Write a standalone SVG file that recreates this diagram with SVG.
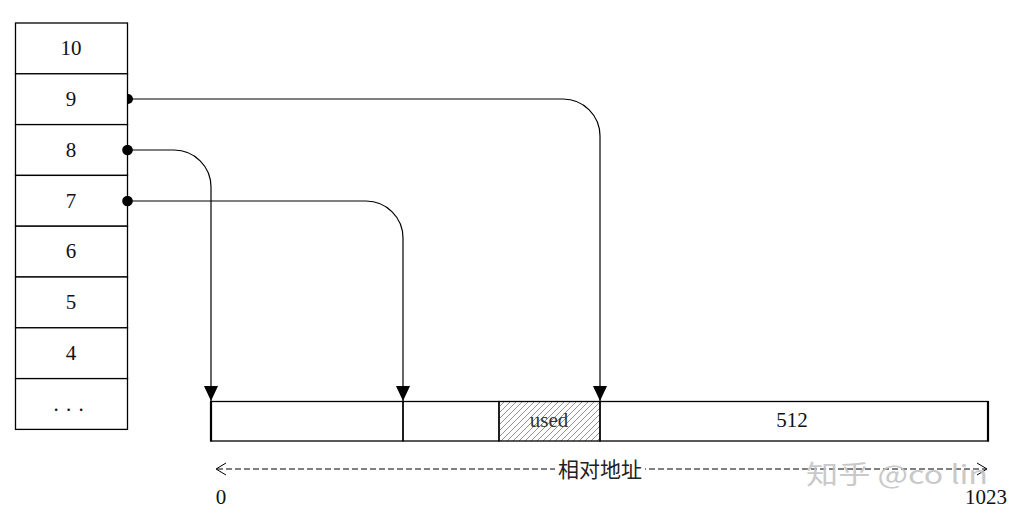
<svg xmlns="http://www.w3.org/2000/svg" width="1016" height="518" viewBox="0 0 1016 518">
<style>
.cell{fill:#fff;stroke:#000;stroke-width:1.3}
.num{font-family:"Liberation Serif","Noto Sans CJK SC",serif;font-size:21px;fill:#111;text-anchor:middle}
.conn{fill:none;stroke:#000;stroke-width:1.2}
.dot{fill:#000}
.seg{fill:none;stroke:#000;stroke-width:1.3}
</style>
<defs>
<marker id="tri" markerUnits="userSpaceOnUse" viewBox="0 0 15 14" refX="15" refY="7" markerWidth="15" markerHeight="14" orient="auto">
<path d="M0,0 L15,7 L0,14 Z" fill="#000"/>
</marker>
<pattern id="hatch" patternUnits="userSpaceOnUse" width="6" height="6">
<path d="M-1,1 L1,-1 M0,6 L6,0 M5,7 L7,5" stroke="#777" stroke-width="0.8"/>
</pattern>
</defs>
<rect width="1016" height="518" fill="#fff"/>

<g id="stack">
<g id="cell-10"><rect class="cell" x="15.5" y="23" width="112" height="50.8"/><text class="num" x="71" y="55">10</text></g>
<g id="cell-9"><rect class="cell" x="15.5" y="73.8" width="112" height="50.8"/><text class="num" x="71" y="106">9</text></g>
<g id="cell-8"><rect class="cell" x="15.5" y="124.6" width="112" height="50.8"/><text class="num" x="71" y="157">8</text></g>
<g id="cell-7"><rect class="cell" x="15.5" y="175.4" width="112" height="50.8"/><text class="num" x="71" y="208">7</text></g>
<g id="cell-6"><rect class="cell" x="15.5" y="226.2" width="112" height="50.8"/><text class="num" x="71" y="258">6</text></g>
<g id="cell-5"><rect class="cell" x="15.5" y="277" width="112" height="50.8"/><text class="num" x="71" y="309">5</text></g>
<g id="cell-4"><rect class="cell" x="15.5" y="327.8" width="112" height="50.8"/><text class="num" x="71" y="360">4</text></g>
<g id="cell-more"><rect class="cell" x="15.5" y="378.6" width="112" height="50.8"/><text class="num" x="69" y="411" style="letter-spacing:1px">. . .</text></g>
</g>

<g id="bar">
<g id="seg-a"><rect class="seg" x="211" y="401.5" width="192" height="39.5"/></g>
<g id="seg-b"><rect class="seg" x="403" y="401.5" width="96" height="39.5"/></g>
<g id="seg-used"><rect x="499" y="401.5" width="101" height="39.5" fill="url(#hatch)"/><rect class="seg" x="499" y="401.5" width="101" height="39.5"/><text class="num" x="549" y="427" style="fill:#333">used</text></g>
<g id="seg-512"><rect class="seg" x="600" y="401.5" width="388" height="39.5"/><text class="num" x="792" y="427">512</text></g>
<line x1="211" y1="401" x2="211" y2="441.5" stroke="#000" stroke-width="2.2"/>
<line x1="988" y1="401" x2="988" y2="441.5" stroke="#000" stroke-width="2.2"/>
</g>

<g id="connectors">
<path class="conn" d="M129,99 H563 A37,37 0 0 1 600,136 V401" marker-end="url(#tri)"/>
<path class="conn" d="M127.5,150 H174 A37,37 0 0 1 211,187 V401" marker-end="url(#tri)"/>
<path class="conn" d="M127.5,201 H366 A37,37 0 0 1 403,238 V401" marker-end="url(#tri)"/>
<path class="dot" d="M128,94 A5,5 0 0 1 128,104 Z"/>
<circle class="dot" cx="127.5" cy="150" r="5.3"/>
<circle class="dot" cx="127.5" cy="201" r="5.3"/>
</g>

<g id="address-axis">
<line x1="217" y1="469" x2="986" y2="469" stroke="#000" stroke-width="1" stroke-dasharray="6,3"/>
<path d="M226,463 L216,469 L226,475" fill="none" stroke="#000" stroke-width="1"/>
<path d="M977,463 L987,469 L977,475" fill="none" stroke="#000" stroke-width="1"/>
<rect x="555" y="456" width="90" height="24" fill="#fff"/>
<text x="600" y="477" style="font-family:'Noto Sans CJK SC',sans-serif;font-size:21px;fill:#222;text-anchor:middle">相对地址</text>
<text class="num" x="221" y="504">0</text>
<text class="num" x="986" y="504">1023</text>
</g>

<text x="806" y="484" textLength="182" lengthAdjust="spacingAndGlyphs" style="font-family:'Noto Sans CJK SC',sans-serif;font-size:26px;fill:#c4c4c4" opacity="0.9">知乎 @co lin</text>
</svg>
